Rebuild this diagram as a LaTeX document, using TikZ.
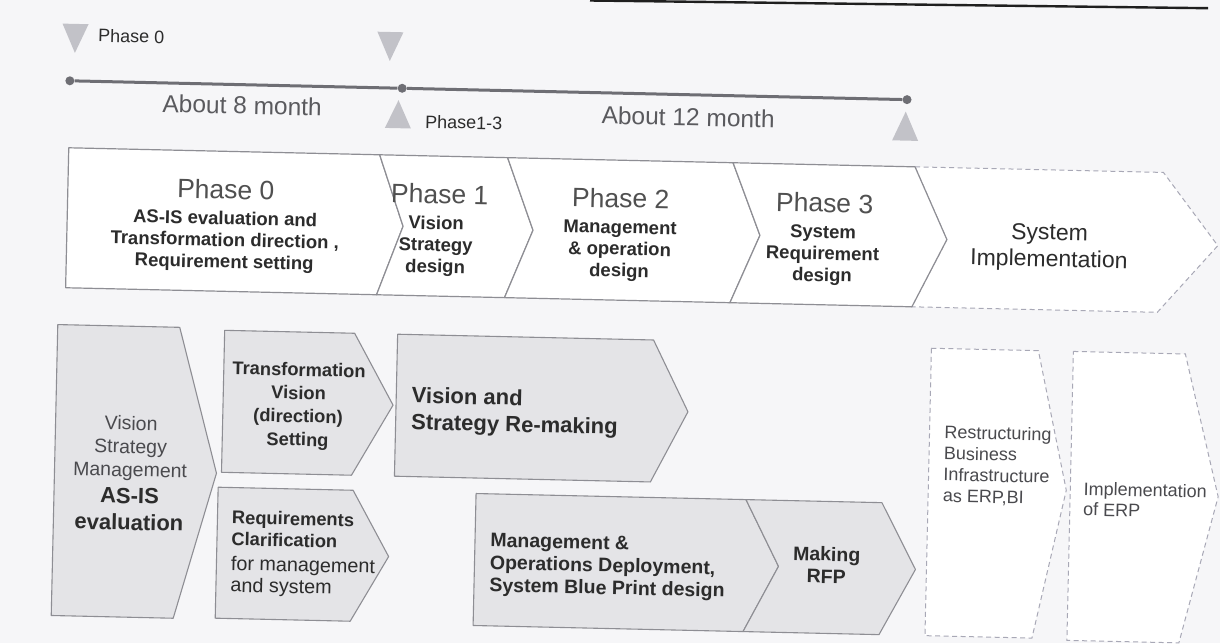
\documentclass[tikz,border=0pt]{standalone}
\usepackage{fontspec}
\setmainfont{Liberation Sans}
\definecolor{bgc}{HTML}{F6F6F8}
\definecolor{edge}{HTML}{8E8E94}
\definecolor{dashc}{HTML}{A8A8B6}
\definecolor{shade}{HTML}{E4E4E7}
\definecolor{txt}{HTML}{2C2C2C}
\definecolor{headc}{HTML}{505050}
\definecolor{monc}{HTML}{5A5A5E}
\definecolor{greyt}{HTML}{4A4A4E}
\definecolor{tric}{HTML}{C2C2C8}
\definecolor{tlc}{HTML}{6E6E74}
\newcommand{\myfs}[2]{\fontsize{#1}{#2}\selectfont}
\tikzset{
  band/.style={draw=edge, line width=1.2pt, fill=white, line join=round},
  dband/.style={draw=dashc, line width=1pt, dash pattern=on 5pt off 3.5pt, fill=white},
  sbox/.style={draw=edge, line width=1.1pt, fill=shade, line join=round},
  dbox/.style={draw=dashc, line width=1pt, dash pattern=on 5pt off 3.5pt, fill=white},
  trimark/.style={fill=tric},
  tdot/.style={circle, fill=tlc, inner sep=0pt, minimum size=9pt},
  head/.style={font=\myfs{26.5}{30}, text=headc, anchor=base, inner sep=0pt},
  pbody/.style={font=\myfs{18.5}{21.7}\bfseries, text=txt, align=center, anchor=base, inner sep=0pt},
  small/.style={font=\myfs{18}{21}, text=txt, anchor=base west, inner sep=0pt},
  month/.style={font=\myfs{24.5}{28}, text=monc, anchor=base, inner sep=0pt},
  ltxt/.style={text=txt, anchor=base west, align=left, inner sep=0pt},
  ctxt/.style={text=txt, anchor=base, align=center, inner sep=0pt},
}
\begin{document}
\begin{tikzpicture}[x=1pt,y=-1pt]
\fill[bgc] (0,0) rectangle (1220,643);
\useasboundingbox (0,0) rectangle (1220,643);
\clip (0,0) rectangle (1220,643);
% header rule
\draw[line width=2.4pt, color=black!88] (590,0.5) -- (1208,8.2);
\begin{scope}[rotate around={-1.29:(610,320)}, transform shape]
% ---------- timeline ----------
\fill[trimark] (56,36) -- (82,36) -- (69,65) -- cycle;
\fill[trimark] (371,37) -- (397,37) -- (384,66) -- cycle;
\fill[trimark] (393.6,105) -- (406.6,133) -- (380.6,133) -- cycle;
\fill[trimark] (901,105) -- (914,134) -- (888,134) -- cycle;
\node[tdot] (d1) at (64.6,93) {};
\node[tdot] (d2) at (397,93) {};
\node[tdot] (d3) at (902,93) {};
\draw[line width=3pt, color=tlc] (d1) -- (d2) -- (d3);
\node[small] (lp0) at (91.7,53.5) {Phase 0};
\node[small] (lp13) at (420.7,132.2) {Phase1-3};
\node[month] (m8) at (237.4,122.3) {About 8 month};
\node[month] (m12) at (683.6,124.2) {About 12 month};
% ---------- phase band ----------
\path[dband] (911.5,160) -- (1160,160) -- (1216,232) -- (1157,300) -- (911.5,300) -- (945,232) -- cycle;
\path[band] (65,160) -- (376,160) -- (401,231) -- (376,300) -- (65,300) -- cycle;
\path[band] (376,160) -- (504,160) -- (531,232) -- (504,300) -- (376,300) -- (401,231) -- cycle;
\path[band] (504,160) -- (729.5,160) -- (758,232) -- (729.5,300) -- (504,300) -- (531,232) -- cycle;
\path[band] (729.5,160) -- (911.5,160) -- (945,232) -- (911.5,300) -- (729.5,300) -- (758,232) -- cycle;
% (base anchor of a multi-line node = baseline of its last line)
\node[head] (h0) at (223,207.5) {Phase 0};
\node[pbody] (b0) at (223,276.7) {AS-IS evaluation and\\Transformation direction ,\\Requirement setting};
\node[head] (h1) at (437,207.5) {Phase 1};
\node[pbody] (b1) at (434,276.7) {Vision\\Strategy\\design};
\node[head] (h2) at (618,207.5) {Phase 2};
\node[pbody] (b2) at (618,276.7) {Management\\\& operation\\design};
\node[head] (h3) at (822,207.5) {Phase 3};
\node[pbody] (b3) at (821,276.7) {System\\Requirement\\design};
\node[ctxt, font=\myfs{23}{26.7}, text=txt] (si) at (1047.5,256.8) {System\\Implementation};
% ---------- lower blocks ----------
\path[sbox] (58,337) -- (180,337) -- (220,482) -- (180,628) -- (58,628) -- cycle;
\node[ctxt, font=\myfs{19.5}{23.3}, text=greyt] (as1) at (133.6,487.4) {Vision\\Strategy\\Management};
\node[ctxt, font=\myfs{22}{26.7}\bfseries] (as2) at (133.6,540.8) {AS-IS\\evaluation};
\path[sbox] (225,339) -- (355,339) -- (395,410) -- (355,481) -- (225,481) -- cycle;
\node[ctxt, font=\myfs{18.3}{23.3}\bfseries] (tv) at (300.3,452.9) {Transformation\\Vision\\(direction)\\Setting};
\path[sbox] (222,496) -- (357,496) -- (394,561.5) -- (357,627) -- (222,627) -- cycle;
\node[ltxt, font=\myfs{18.3}{21.7}\bfseries] (rq) at (236.4,600.3) {Requirements\\Clarification\\[3pt]{\mdseries\myfs{19.8}{21.7}for management}\\{\mdseries\myfs{19.8}{21.7}and system}};
\path[sbox] (398,339) -- (654,339) -- (690,410) -- (654,481) -- (398,481) -- cycle;
\node[ltxt, font=\myfs{22}{26.7}\bfseries] (vs) at (413.4,434) {Vision and\\Strategy Re-making};
\path[sbox] (480,496.5) -- (750,496.5) -- (784,562.5) -- (750,628.5) -- (480,628.5) -- cycle;
\node[ltxt, font=\myfs{19.5}{22.5}\bfseries] (mo) at (495.3,594.4) {Management \&\\Operations Deployment,\\System Blue Print design};
\path[sbox] (750,496.5) -- (886,496.5) -- (921,562.5) -- (886,628.5) -- (750,628.5) -- (784,562.5) -- cycle;
\node[ctxt, font=\myfs{19.5}{22.5}\bfseries] (rfp) at (832,578.5) {Making\\RFP};
\path[dbox] (932,341) -- (1039,341) -- (1070,480) -- (1039,628.5) -- (932,628.5) -- cycle;
\node[ltxt, font=\myfs{18}{21.2}, text=greyt] (rb) at (946.8,494.4) {Restructuring\\Business\\Infrastructure\\as ERP,BI};
\path[dbox] (1074,341) -- (1186,341) -- (1222,483) -- (1186,630) -- (1074,630) -- cycle;
\node[ltxt, font=\myfs{18}{20.5}, text=greyt] (ie) at (1087.3,504.9) {Implementation\\of ERP};
\end{scope}
\end{tikzpicture}
\end{document}
